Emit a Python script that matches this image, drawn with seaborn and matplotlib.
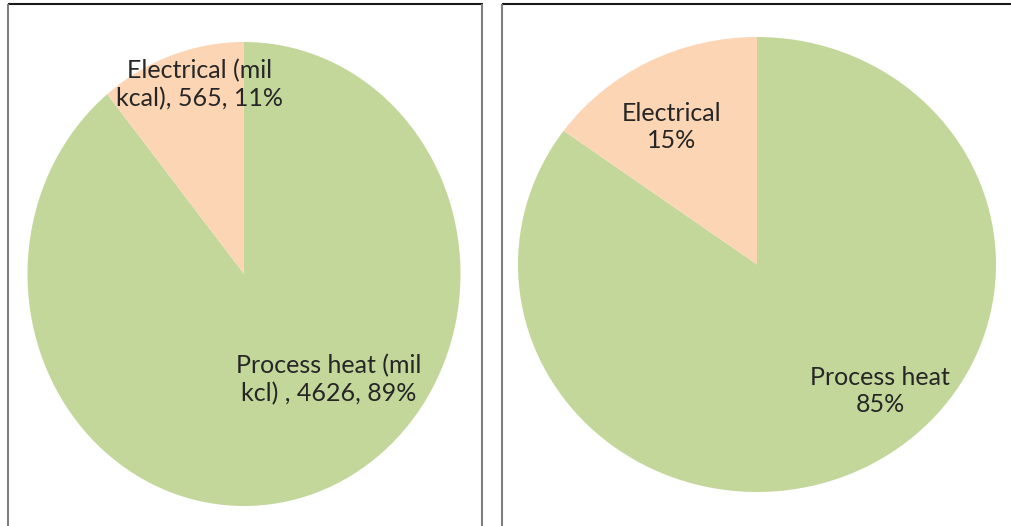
import matplotlib.pyplot as plt
import seaborn as sns
from matplotlib.lines import Line2D

# energy split, left chart (mil kcal) and right chart (share %)
categories = ['Process heat', 'Electrical']
energy_mil_kcal = [4626, 565]
energy_pct = [89, 11]
share_pct = [85, 15]

left_labels = ['Process heat (mil\nkcl) , 4626, 89%', 'Electrical (mil\nkcal), 565, 11%']
right_labels = ['Process heat\n85%', 'Electrical\n15%']

colors = ['#C4D79B', '#FCD5B5']
text_color = '#262626'

sns.set_theme(style='white')
plt.rcParams['font.family'] = ['Lato', 'DejaVu Sans']

W, H = 1011, 526
fig = plt.figure(figsize=(W / 100, H / 100), dpi=100)


def px_axes(cx, cy, rx, ry):
    # axes box in figure fraction from pixel centre / radii
    return fig.add_axes([(cx - rx) / W, 1 - (cy + ry) / H, 2 * rx / W, 2 * ry / H])


ax1 = px_axes(244, 274, 216.5, 232)
ax2 = px_axes(757, 264.5, 239, 227.5)

for ax, vals in [(ax1, energy_mil_kcal), (ax2, share_pct)]:
    ax.pie(vals, colors=colors, startangle=90, counterclock=False,
           wedgeprops={'linewidth': 0})
    ax.set_aspect('auto')
    ax.set_xlim(-1, 1)
    ax.set_ylim(-1, 1)
    ax.axis('off')

# data labels
lbl_pos1 = [(0.39, -0.457), (-0.205, 0.815)]
lbl_pos2 = [(0.515, -0.556), (-0.356, 0.604)]
for ax, labels, pos in [(ax1, left_labels, lbl_pos1), (ax2, right_labels, lbl_pos2)]:
    for lab, (x, y) in zip(labels, pos):
        ax.text(x, y, lab, ha='center', va='center', multialignment='center',
                fontsize=18, color=text_color, linespacing=1.25)

# panel borders
def fig_line(x0, y0, x1, y1, color, lw):
    fig.add_artist(Line2D([x0 / W, x1 / W], [1 - y0 / H, 1 - y1 / H],
                          color=color, lw=lw, solid_capstyle='butt'))

fig_line(8, 4, 483, 4, '#1a1a1a', 1.5)
fig_line(8, 4, 8, 526, '#7f7f7f', 1.5)
fig_line(482, 4, 482, 526, '#7f7f7f', 1.5)
fig_line(502, 4, 1011, 4, '#1a1a1a', 1.5)
fig_line(502, 4, 502, 526, '#7f7f7f', 1.5)

plt.savefig('out.png', dpi=100)
